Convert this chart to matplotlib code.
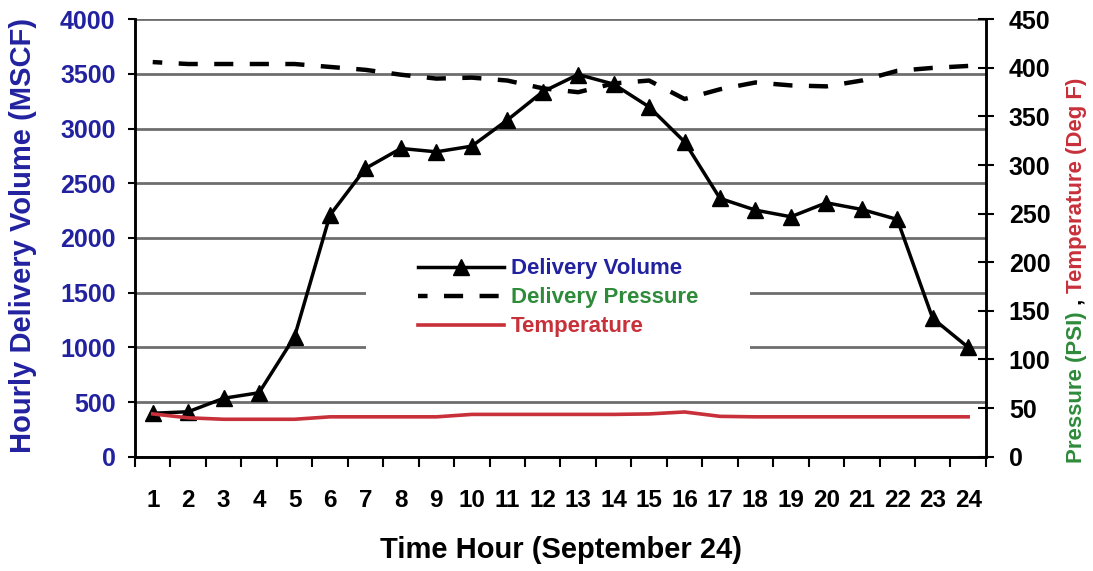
import numpy as np
import matplotlib
matplotlib.use("Agg")
import matplotlib.pyplot as plt
from matplotlib.patches import Rectangle

# values
hours = list(range(1, 25))
volume = [397, 411, 534, 585, 1097, 2209, 2636, 2819, 2788, 2840, 3078, 3337,
          3495, 3407, 3199, 2880, 2362, 2255, 2194, 2322, 2261, 2170, 1265, 1000]
pressure = [406, 404, 404, 404, 404, 401, 398, 393, 389, 390, 387, 379,
            375, 384, 387, 368, 378, 385, 382, 381, 387, 397, 400, 402]
temperature = [44, 40, 38.5, 38.5, 38.5, 41, 41, 41, 41, 43.5, 43.5, 43.5,
               43.5, 43.5, 44, 46, 41.5, 41, 41, 41, 41, 41, 41, 41]
left_ticks = list(range(0, 4001, 500))
right_ticks = list(range(0, 451, 50))

BLUE = "#2222a0"
GREEN = "#2e8b3a"
RED = "#c8303a"
FONT = "Liberation Sans"

plt.rcParams["font.family"] = FONT

fig = plt.figure(figsize=(10.93, 5.71), dpi=100)
ax = fig.add_axes([0.1235, 0.2002, 0.7785, 0.766])
ax2 = ax.twinx()

# grid on the volume axis
ax.set_ylim(0, 4000)
ax.set_yticks(left_ticks)
ax.grid(axis="y", color="#6e6e6e", linewidth=2.0)
ax.set_axisbelow(True)
ax.set_xlim(0.5, 24.5)
ax.set_xticks(hours)
ax.set_xticks(np.arange(0.5, 25, 1), minor=True)
ax.tick_params(axis="x", which="major", length=0, pad=23, labelsize=17.5)
ax.tick_params(axis="x", which="minor", length=7, width=1.5, direction="out")
ax.tick_params(axis="y", length=5, width=1.5, labelsize=18, labelcolor=BLUE,
               pad=9)
for lab in ax.get_xticklabels() + ax.get_yticklabels():
    lab.set_fontweight("bold")

ax.plot(hours, volume, color="black", linewidth=2.5, marker="^",
        markersize=12, label="Delivery Volume", zorder=4)

ax2.set_ylim(0, 450)
ax2.set_yticks(right_ticks)
ax2.tick_params(axis="y", length=11, width=1.5, direction="inout",
                labelsize=18, pad=11)
for lab in ax2.get_yticklabels():
    lab.set_fontweight("bold")

# white patch behind the legend hides the grid there
ax2.add_patch(Rectangle((0.272, 0.235), 0.451, 0.25, transform=ax.transAxes,
                        facecolor="white", edgecolor="none", zorder=1))

# dash period matches the hour spacing, dashes centred on each hour
ax2.plot(hours, pressure, color="black", linewidth=3.2,
         linestyle=(2.15, (4.3, 3.7)), dash_capstyle="butt",
         label="Delivery Pressure", zorder=3)
ax2.plot(hours, temperature, color=RED, linewidth=2.6,
         label="Temperature", zorder=3)

for a in (ax, ax2):
    a.spines["top"].set_visible(False)
    for s in ("left", "right", "bottom"):
        a.spines[s].set_linewidth(1.8)

h1, l1 = ax.get_legend_handles_labels()
h2, l2 = ax2.get_legend_handles_labels()
leg = ax2.legend(h1 + h2, l1 + l2, loc="upper left",
                 bbox_to_anchor=(0.314, 0.489), frameon=False,
                 handlelength=3.9, handletextpad=0.3, labelspacing=0.36,
                 borderpad=0.2,
                 prop={"family": FONT, "weight": "bold", "size": 16})
for txt, c in zip(leg.get_texts(), [BLUE, GREEN, RED]):
    txt.set_color(c)
leg.set_zorder(5)

fig.text(0.5135, 1 - 550 / 571, "Time Hour (September 24)", ha="center",
         va="center", fontsize=21, fontweight="bold")
fig.text(0.021, 0.587, "Hourly Delivery Volume (MSCF)", rotation=90,
         ha="center", va="center", fontsize=21, fontweight="bold", color=BLUE)

# multi-coloured right axis label, stacked bottom to top
fig.canvas.draw()
renderer = fig.canvas.get_renderer()
y = 1 - 463 / 571
for part, c in [("Pressure (PSI)", GREEN), (" , ", "black"),
                ("Temperature (Deg F)", RED)]:
    t = fig.text(0.9845, y, part, rotation=90, ha="center", va="bottom",
                 fontsize=16, fontweight="bold", color=c)
    bb = t.get_window_extent(renderer)
    y += bb.height / fig.bbox.height

fig.savefig("out.png", dpi=100)
